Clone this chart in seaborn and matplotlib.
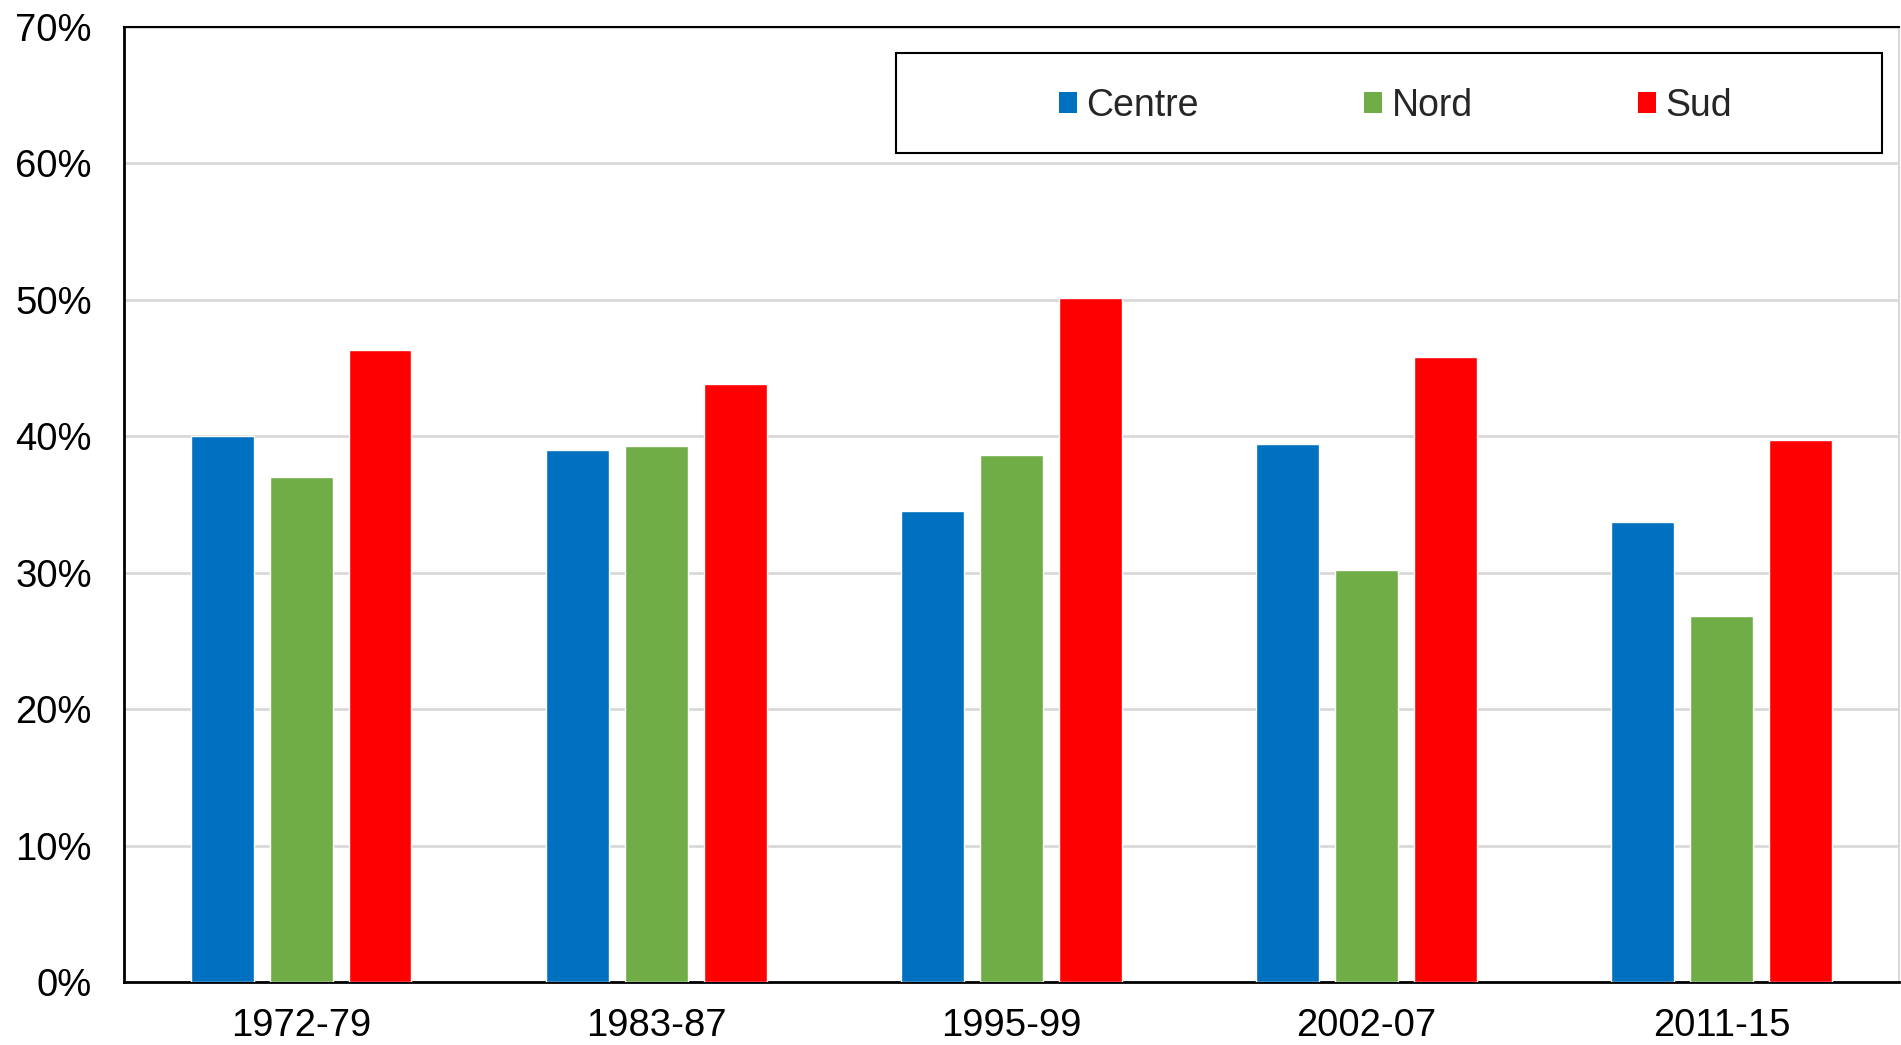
import pandas as pd
import matplotlib.pyplot as plt
import seaborn as sns
from matplotlib.patches import Patch, Rectangle
from matplotlib.ticker import PercentFormatter


periods = ['1972-79', '1983-87', '1995-99', '2002-07', '2011-15']
regions = ['Centre', 'Nord', 'Sud']
centre = [40.0, 39.0, 34.5, 39.4, 33.7]
nord = [37.0, 39.3, 38.6, 30.2, 26.8]
sud = [46.3, 43.8, 50.1, 45.8, 39.7]
colors = {'Centre': '#0070C0', 'Nord': '#70AD47', 'Sud': '#FF0000'}

df = pd.DataFrame({
    'period': periods * 3,
    'region': ['Centre'] * 5 + ['Nord'] * 5 + ['Sud'] * 5,
    'share': centre + nord + sud,
})

sns.set_style('white')
plt.rcParams['font.family'] = ['Liberation Sans', 'DejaVu Sans']

fig = plt.figure(figsize=(19.01, 10.45), dpi=100)
ax = fig.add_axes([0.0651, 0.0603, 0.9339, 0.9142])

sns.barplot(data=df, x='period', y='share', hue='region', hue_order=regions,
            order=periods, palette=colors, width=0.665, gap=0.2,
            saturation=1, legend=False, ax=ax, zorder=3)

ax.set_xlim(-0.5, 4.5)
ax.set_ylim(0, 70)
ax.set_yticks(range(0, 71, 10))
ax.yaxis.set_major_formatter(PercentFormatter(100, decimals=0))
ax.grid(axis='y', color='#D9D9D9', linewidth=2, zorder=0)
ax.set_axisbelow(True)
ax.set_xlabel('')
ax.set_ylabel('')
ax.tick_params(axis='both', length=0, labelsize=27.5, colors='black')
ax.tick_params(axis='y', pad=23)
ax.tick_params(axis='x', pad=19)

for side in ['left', 'bottom']:
    ax.spines[side].set_color('black')
    ax.spines[side].set_linewidth(2)
ax.spines['top'].set_color('black')
ax.spines['top'].set_linewidth(1.5)
ax.spines['right'].set_color('#D9D9D9')
ax.spines['right'].set_linewidth(1.5)

# legend box
fig.patches.append(Rectangle((0.4713, 0.8536), 0.5187, 0.0957, transform=fig.transFigure,
                             fill=True, facecolor='white', edgecolor='black',
                             linewidth=1.5, zorder=5))
handles = [Patch(facecolor=colors[r], edgecolor='none') for r in regions]
leg = fig.legend(handles, regions, loc='center', bbox_to_anchor=(0.734, 0.899),
                 ncol=3, frameon=False, fontsize=27, handlelength=0.48,
                 handleheight=0.48, handletextpad=0.26, columnspacing=4.4)
leg.set_zorder(6)

fig.savefig('out.png', dpi=100)
